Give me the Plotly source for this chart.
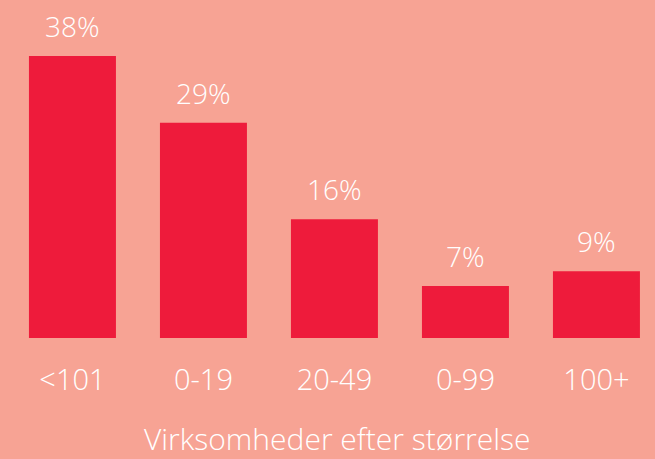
import plotly.graph_objects as go

categories = ["<101", "0-19", "20-49", "0-99", "100+"]
values = [38, 29, 16, 7, 9]
value_labels = ["38%", "29%", "16%", "7%", "9%"]
x_title = "Virksomheder efter størrelse"

BG = "#F7A394"
BAR = "#EE1B3B"
FAMILY = "Open Sans"


def font(size):
    return dict(family=FAMILY, size=size, color="white", weight=300)


fig = go.Figure()
fig.add_trace(go.Bar(
    x=categories, y=values, width=0.664,
    marker=dict(color=BAR, line=dict(width=0)),
    hoverinfo="skip",
))

for c, v, t in zip(categories, values, value_labels):
    fig.add_annotation(x=c, y=v, text=t, showarrow=False, yanchor="bottom",
                       yshift=9, font=font(28))

fig.add_annotation(x=0.515, y=0, xref="paper", yref="paper", yshift=-100,
                   text=x_title, showarrow=False, yanchor="middle",
                   borderpad=0, font=font(30))

fig.update_layout(
    width=655, height=459,
    margin=dict(l=0, r=0, t=4, b=121),
    paper_bgcolor=BG, plot_bgcolor=BG,
    showlegend=False,
    xaxis=dict(type="category", range=[-0.553, 4.447], showgrid=False,
               zeroline=False, showline=False, ticks="",
               ticklabelstandoff=22, tickfont=font(29)),
    yaxis=dict(range=[0, 45.0], visible=False, showgrid=False, zeroline=False),
)

fig.write_html("out.html", config={"displayModeBar": False},
               post_script="document.body.style.margin='0';document.body.style.background='" + BG + "';")
